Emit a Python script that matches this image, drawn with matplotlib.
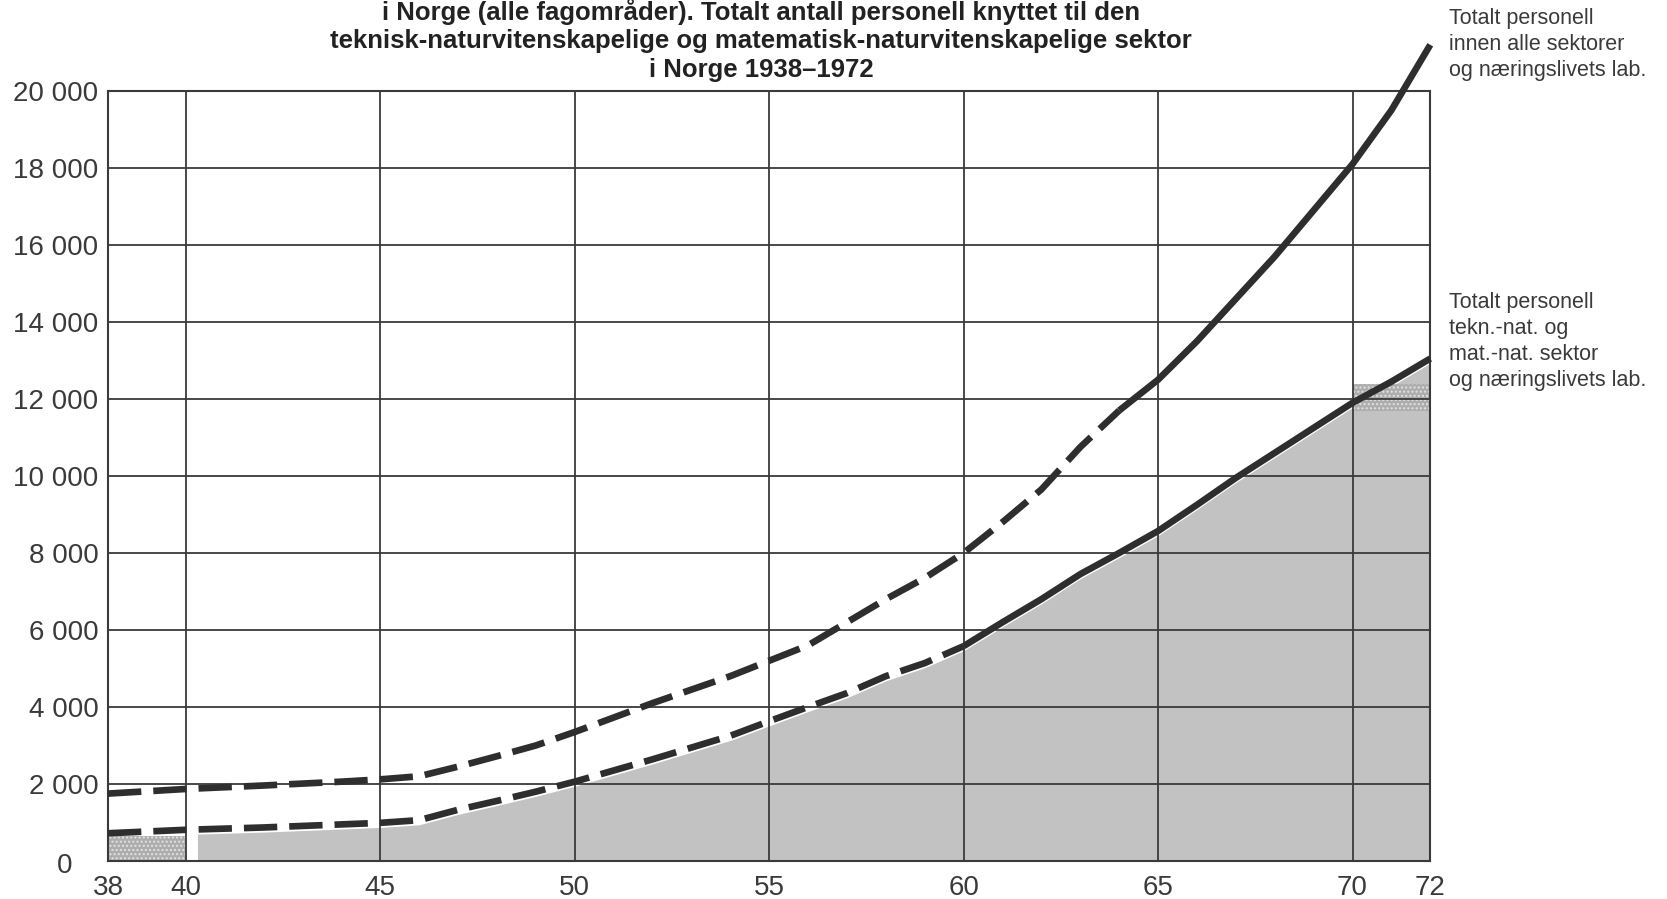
import numpy as np
import matplotlib
matplotlib.use("Agg")
import matplotlib.pyplot as plt
from matplotlib import transforms

plt.rcParams["font.family"] = ["Liberation Sans", "DejaVu Sans"]

# årstall og verdier
years = np.array([38, 40, 42, 44, 45, 46, 47, 48, 49, 50, 52, 54, 55, 56, 57, 58, 59,
                  60, 61, 62, 63, 64, 65, 66, 67, 68, 69, 70, 71, 72])
alle_sektorer = np.array([1750, 1870, 1960, 2060, 2120, 2200, 2450, 2720, 3000, 3350,
                          4100, 4800, 5200, 5600, 6200, 6800, 7350, 8000, 8800, 9650,
                          10750, 11700, 12500, 13500, 14600, 15700, 16900, 18100,
                          19500, 21200])
tekn_nat = np.array([720, 810, 870, 950, 990, 1060, 1330, 1560, 1800, 2060, 2640, 3250,
                     3630, 4000, 4360, 4800, 5140, 5580, 6200, 6800, 7450, 8000, 8570,
                     9250, 9950, 10600, 11250, 11900, 12450, 13050])
blokk_1938_40 = 650          # egen skravert blokk 1938-40
blokk_1970_72 = (11700, 12400)  # skravert stripe 1970-72
start_fyll = 40.3            # grått felt starter like etter 1940
skift_alle = 64              # stiplet -> heltrukket
skift_tekn = 60

x_ticks = [38, 40, 45, 50, 55, 60, 65, 70, 72]
y_ticks = list(range(2000, 20001, 2000))
tittel = ["i Norge (alle fagområder). Totalt antall personell knyttet til den",
          "teknisk-naturvitenskapelige og matematisk-naturvitenskapelige sektor",
          "i Norge 1938\u20131972"]
tekst_alle = "Totalt personell\ninnen alle sektorer\nog næringslivets lab."
tekst_tekn = "Totalt personell\ntekn.-nat. og\nmat.-nat. sektor\nog næringslivets lab."

mørk = "#2e2e2e"
tekstfarge = "#3a3a3a"
fig = plt.figure(figsize=(16.67, 8.99), dpi=100)
ax = fig.add_axes([0.0648, 0.0423, 0.7932, 0.8565])
ax.set_xlim(38, 72)
ax.set_ylim(0, 20000)

# grått felt under nedre kurve
fx = np.concatenate([[start_fyll], years[years > start_fyll]])
fy = np.interp(fx, years, tekn_nat) - 120
ax.fill_between(fx, 0, fy, color="#c2c2c2", lw=0, zorder=1)
ax.fill_between([38, 40], 0, blokk_1938_40, facecolor="#adadad", edgecolor="#e2e2e2",
                hatch="....", lw=0, zorder=1)
ax.fill_between([70, 72], blokk_1970_72[0], blokk_1970_72[1], facecolor="#adadad",
                edgecolor="#e2e2e2", hatch="....", lw=0, zorder=1)

# rutenett
for x in x_ticks:
    ax.axvline(x, color="#3a3a3a", lw=1.3, zorder=2)
for y in y_ticks:
    ax.axhline(y, color="#3a3a3a", lw=1.3, zorder=2)
for s in ax.spines.values():
    s.set_color("#3a3a3a")
    s.set_linewidth(1.5)

dash = (5, 1.8)


def tegn(verdier, skift):
    d = years <= skift
    h = years >= skift
    ax.plot(years[d], verdier[d], color=mørk, lw=4.8, dashes=dash,
            solid_capstyle="butt", dash_capstyle="butt", zorder=4, clip_on=False)
    ax.plot(years[h], verdier[h], color=mørk, lw=4.8, solid_capstyle="butt",
            solid_joinstyle="round", zorder=4, clip_on=False)


tegn(alle_sektorer, skift_alle)
tegn(tekn_nat, skift_tekn)

# akser
ax.set_xticks(x_ticks)
ax.set_xticklabels([str(x) for x in x_ticks])
ax.set_yticks(y_ticks)
ax.set_yticklabels([f"{y // 1000} 000" for y in y_ticks])
ax.tick_params(axis="both", length=0, labelsize=20, labelcolor=tekstfarge)
ax.tick_params(axis="y", pad=7)
ax.tick_params(axis="x", pad=10)
trans = transforms.blended_transform_factory(ax.transAxes, ax.transData)
ax.text(-0.033, -120, "0", transform=trans, ha="center", va="center",
        fontsize=20, color=tekstfarge)

# tittel
for i, linje in enumerate(tittel):
    fig.text(0.4565, 0.987 - i * 0.0325, linje, ha="center", va="center",
             fontsize=18.5, fontweight="bold", color="#222222",
             family=["Liberation Sans Narrow", "Liberation Sans"])

fig.text(0.8695, 0.991, tekst_alle, ha="left", va="top", fontsize=15.5,
         color=tekstfarge, linespacing=1.3)
fig.text(0.8695, 0.675, tekst_tekn, ha="left", va="top", fontsize=15.5,
         color=tekstfarge, linespacing=1.3)

fig.savefig("out.png", dpi=100)
